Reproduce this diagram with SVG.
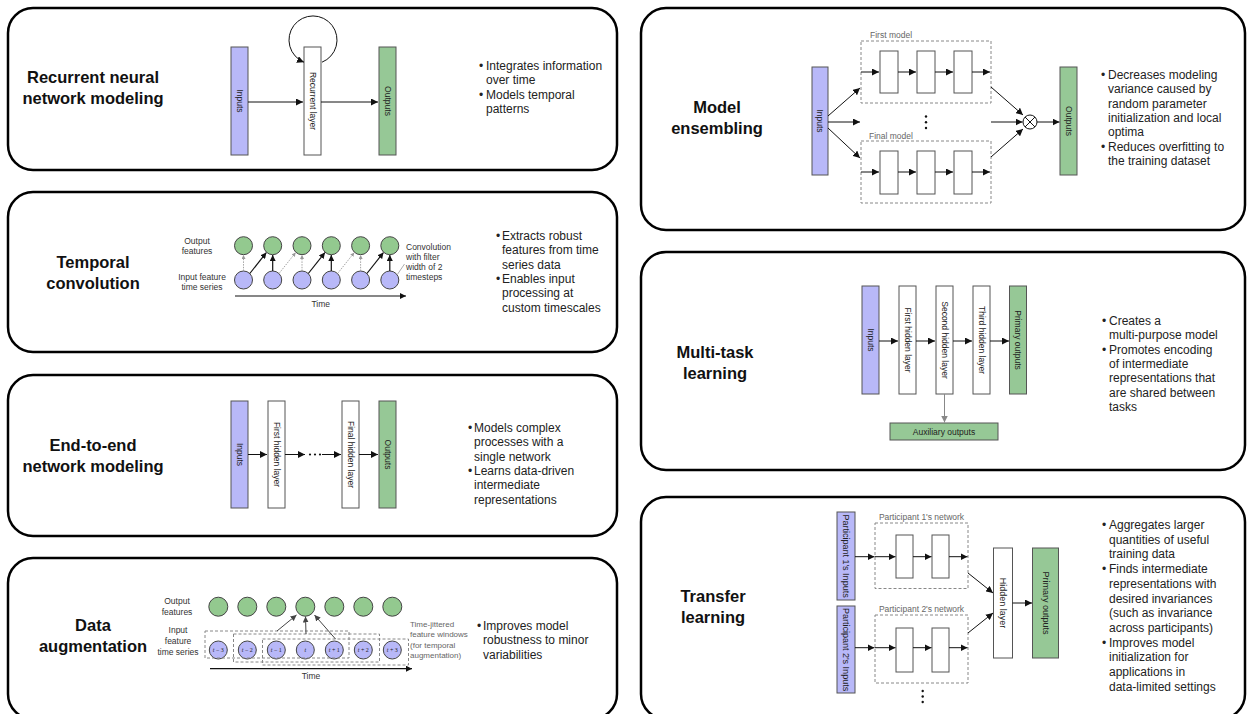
<svg xmlns="http://www.w3.org/2000/svg" width="1249" height="714" viewBox="0 0 1249 714">
<style>
.panel{fill:#fff;stroke:#000;stroke-width:2.5}
text{font-family:"Liberation Sans",Arial,Helvetica,sans-serif}
.title{font-weight:bold;font-size:16.5px;text-anchor:middle;fill:#111}
.bul{font-size:12px;fill:#222}
.in{fill:#b8b8f8;stroke:#555;stroke-width:1}
.out{fill:#96c896;stroke:#555;stroke-width:1}
.hid{fill:#fff;stroke:#555;stroke-width:1}
.vt{font-size:8.5px;fill:#222;text-anchor:middle;dominant-baseline:central}
.lab{font-size:8.5px;fill:#333}
.labc{font-size:8.5px;fill:#333;text-anchor:middle}
.glab{font-size:8.5px;fill:#666}
.dash{fill:none;stroke:#888;stroke-width:1;stroke-dasharray:3 2}
.ar{stroke:#111;stroke-width:1;fill:none;marker-end:url(#ah)}
.arg{stroke:#888;stroke-width:1;fill:none;marker-end:url(#ahg)}
.ars{stroke:#111;stroke-width:1.2;fill:none;marker-end:url(#ahs)}
.ard{stroke:#999;stroke-width:0.9;stroke-dasharray:1.5 1.2;fill:none;marker-end:url(#ahd)}
.ara{stroke:#444;stroke-width:1;fill:none;marker-end:url(#aha)}
.ln{stroke:#111;stroke-width:1;fill:none}
.cg{fill:#93c98f;stroke:#444;stroke-width:1}
.cb{fill:#b8b8f8;stroke:#444;stroke-width:1}
.tl{font-family:"Liberation Serif","Times New Roman",serif;font-size:6px;fill:#222;text-anchor:middle}
</style>
<defs>
<marker id="ah" viewBox="0 0 10 10" refX="10" refY="5" markerWidth="7" markerHeight="7" orient="auto" markerUnits="userSpaceOnUse"><path d="M0,0 L10,5 L0,10 z" fill="#111"/></marker>
<marker id="ahg" viewBox="0 0 10 10" refX="10" refY="5" markerWidth="7" markerHeight="7" orient="auto" markerUnits="userSpaceOnUse"><path d="M0,0 L10,5 L0,10 z" fill="#888"/></marker>
<marker id="ahs" viewBox="0 0 10 10" refX="10" refY="5" markerWidth="6" markerHeight="6" orient="auto" markerUnits="userSpaceOnUse"><path d="M0,0 L10,5 L0,10 z" fill="#111"/></marker>
<marker id="ahd" viewBox="0 0 10 10" refX="10" refY="5" markerWidth="4" markerHeight="4" orient="auto" markerUnits="userSpaceOnUse"><path d="M0,0 L10,5 L0,10 z" fill="#999"/></marker>
<marker id="aha" viewBox="0 0 10 10" refX="10" refY="5" markerWidth="6" markerHeight="6" orient="auto" markerUnits="userSpaceOnUse"><path d="M0,0 L10,5 L0,10 z" fill="#444"/></marker>
</defs>
<rect width="1249" height="714" fill="#fff"/>

<!-- Panel 1: RNN -->
<g id="panel-rnn">
<rect class="panel" x="8" y="8" width="609" height="162" rx="25"/>
<text class="title"><tspan x="93" y="83">Recurrent neural</tspan><tspan x="93" y="104">network modeling</tspan></text>
<g id="rnn-inputs"><rect class="in" x="231" y="47" width="17" height="108"/><text class="vt" transform="translate(239.5,101) rotate(90)">Inputs</text></g>
<g id="rnn-recurrent"><rect class="hid" x="304" y="47" width="17" height="108"/><text class="vt" transform="translate(312.5,101) rotate(90)">Recurrent layer</text></g>
<g id="rnn-outputs"><rect class="out" x="379" y="47" width="17" height="108"/><text class="vt" transform="translate(387.5,101) rotate(90)">Outputs</text></g>
<g class="bul"><text x="479" y="70">•</text><text x="486" y="70">Integrates information</text><text x="486" y="84.3">over time</text><text x="479" y="98.6">•</text><text x="486" y="98.6">Models temporal</text><text x="486" y="113">patterns</text></g>
</g>

<!-- Panel 2: Temporal convolution -->
<g id="panel-tconv">
<rect class="panel" x="8" y="192" width="609" height="160" rx="25"/>
<text class="title"><tspan x="93" y="268">Temporal</tspan><tspan x="93" y="289">convolution</tspan></text>
<text class="labc"><tspan x="197" y="244">Output</tspan><tspan x="197" y="254">features</tspan></text>
<text class="labc"><tspan x="202" y="280">Input feature</tspan><tspan x="202" y="290">time series</tspan></text>
<g id="tconv-out">
<circle class="cg" cx="243.5" cy="245.7" r="9"/><circle class="cg" cx="272.7" cy="245.7" r="9"/><circle class="cg" cx="302" cy="245.7" r="9"/><circle class="cg" cx="331.3" cy="245.7" r="9"/><circle class="cg" cx="360.6" cy="245.7" r="9"/><circle class="cg" cx="389.8" cy="245.7" r="9"/>
</g>
<g id="tconv-in">
<circle class="cb" cx="243.5" cy="280" r="9"/><circle class="cb" cx="272.7" cy="280" r="9"/><circle class="cb" cx="302" cy="280" r="9"/><circle class="cb" cx="331.3" cy="280" r="9"/><circle class="cb" cx="360.6" cy="280" r="9"/><circle class="cb" cx="389.8" cy="280" r="9"/>
</g>
<text class="lab"><tspan x="406" y="250">Convolution</tspan><tspan x="406" y="260">with filter</tspan><tspan x="406" y="270">width of 2</tspan><tspan x="406" y="280">timesteps</tspan></text>
<text class="labc" x="320.7" y="306.5">Time</text>
<g class="bul"><text x="496" y="240">•</text><text x="502" y="240">Extracts robust</text><text x="502" y="254.3">features from time</text><text x="502" y="268.6">series data</text><text x="496" y="282.9">•</text><text x="502" y="282.9">Enables input</text><text x="502" y="297.2">processing at</text><text x="502" y="311.5">custom timescales</text></g>
</g>

<!-- Panel 3: End-to-end -->
<g id="panel-e2e">
<rect class="panel" x="8" y="375" width="609" height="161" rx="25"/>
<text class="title"><tspan x="93" y="451">End-to-end</tspan><tspan x="93" y="472">network modeling</tspan></text>
<g id="e2e-inputs"><rect class="in" x="231" y="401" width="17" height="107"/><text class="vt" transform="translate(239.5,454.5) rotate(90)">Inputs</text></g>
<g id="e2e-first"><rect class="hid" x="268" y="401" width="17" height="107"/><text class="vt" transform="translate(276.5,454.5) rotate(90)">First hidden layer</text></g>
<g id="e2e-final"><rect class="hid" x="342" y="401" width="17" height="107"/><text class="vt" transform="translate(350.5,454.5) rotate(90)">Final hidden layer</text></g>
<g id="e2e-outputs"><rect class="out" x="379" y="401" width="17" height="107"/><text class="vt" transform="translate(387.5,454.5) rotate(90)">Outputs</text></g>
<g fill="#111"><circle cx="310" cy="454.5" r="1.1"/><circle cx="315" cy="454.5" r="1.1"/><circle cx="320" cy="454.5" r="1.1"/></g>
<g class="bul"><text x="468" y="432">•</text><text x="474" y="432">Models complex</text><text x="474" y="446.3">processes with a</text><text x="474" y="460.6">single network</text><text x="468" y="474.9">•</text><text x="474" y="474.9">Learns data-driven</text><text x="474" y="489.2">intermediate</text><text x="474" y="503.5">representations</text></g>
</g>

<!-- Panel 4: Data augmentation -->
<g id="panel-aug">
<rect class="panel" x="8" y="558" width="609" height="161" rx="25"/>
<text class="title"><tspan x="93" y="631">Data</tspan><tspan x="93" y="652">augmentation</tspan></text>
<text class="labc"><tspan x="177" y="604">Output</tspan><tspan x="177" y="615">features</tspan></text>
<text class="labc"><tspan x="178" y="633">Input</tspan><tspan x="178" y="644">feature</tspan><tspan x="178" y="655">time series</tspan></text>
<g id="aug-out">
<circle class="cg" cx="218.3" cy="606.7" r="9.5"/><circle class="cg" cx="247.3" cy="606.7" r="9.5"/><circle class="cg" cx="276.3" cy="606.7" r="9.5"/><circle class="cg" cx="305.3" cy="606.7" r="9.5"/><circle class="cg" cx="334.3" cy="606.7" r="9.5"/><circle class="cg" cx="363.3" cy="606.7" r="9.5"/><circle class="cg" cx="392.3" cy="606.7" r="9.5"/>
</g>
<g id="aug-in">
<circle class="cb" cx="218.3" cy="650" r="9"/><circle class="cb" cx="247.3" cy="650" r="9"/><circle class="cb" cx="276.3" cy="650" r="9"/><circle class="cb" cx="305.3" cy="650" r="9"/><circle class="cb" cx="334.3" cy="650" r="9"/><circle class="cb" cx="363.3" cy="650" r="9"/><circle class="cb" cx="392.3" cy="650" r="9"/>
<text class="tl" x="218.3" y="652"><tspan font-style="italic">t</tspan> − 3</text>
<text class="tl" x="247.3" y="652"><tspan font-style="italic">t</tspan> − 2</text>
<text class="tl" x="276.3" y="652"><tspan font-style="italic">t</tspan> − 1</text>
<text class="tl" x="305.3" y="652"><tspan font-style="italic">t</tspan></text>
<text class="tl" x="334.3" y="652"><tspan font-style="italic">t</tspan> + 1</text>
<text class="tl" x="363.3" y="652"><tspan font-style="italic">t</tspan> + 2</text>
<text class="tl" x="392.3" y="652"><tspan font-style="italic">t</tspan> + 3</text>
</g>
<g id="aug-windows">
<rect class="dash" x="205" y="631" width="144" height="27"/>
<rect class="dash" x="233.5" y="634" width="146" height="28"/>
<rect class="dash" x="262.5" y="639" width="146" height="26"/>
</g>
<text class="glab" style="font-size:8px"><tspan x="410" y="626.5">Time-jittered</tspan><tspan x="410" y="637">feature windows</tspan><tspan x="410" y="647.5">(for temporal</tspan><tspan x="410" y="658">augmentation)</tspan></text>
<text class="labc" x="311" y="679">Time</text>
<g class="bul"><text x="477" y="630">•</text><text x="483" y="630">Improves model</text><text x="483" y="644.3">robustness to minor</text><text x="483" y="658.6">variabilities</text></g>
</g>

<!-- Panel 5: Model ensembling -->
<g id="panel-ens">
<rect class="panel" x="641" y="8" width="604" height="222" rx="25"/>
<text class="title"><tspan x="717" y="113">Model</tspan><tspan x="717" y="134">ensembling</tspan></text>
<g id="ens-inputs"><rect class="in" x="812" y="67" width="16" height="108"/><text class="vt" transform="translate(820,121) rotate(90)">Inputs</text></g>
<g id="ens-first">
<rect class="dash" x="861" y="41" width="130" height="62"/>
<text class="glab" x="870" y="38.3">First model</text>
<rect class="hid" x="880" y="51" width="18" height="42"/><rect class="hid" x="917" y="51" width="18" height="42"/><rect class="hid" x="954" y="51" width="18" height="42"/>
</g>
<g id="ens-final">
<rect class="dash" x="861" y="141" width="130" height="62"/>
<text class="glab" x="869" y="139.3">Final model</text>
<rect class="hid" x="880" y="151" width="18" height="43"/><rect class="hid" x="917" y="151" width="18" height="43"/><rect class="hid" x="954" y="151" width="18" height="43"/>
</g>
<g fill="#111"><circle cx="926" cy="116.5" r="1.2"/><circle cx="926" cy="122.3" r="1.2"/><circle cx="926" cy="128" r="1.2"/></g>
<g id="ens-combine"><circle cx="1030" cy="122" r="7" fill="#fff" stroke="#111" stroke-width="1"/><path class="ln" d="M1025 117 L1035 127 M1035 117 L1025 127"/></g>
<g id="ens-outputs"><rect class="out" x="1060" y="67" width="17" height="108"/><text class="vt" transform="translate(1068.5,121) rotate(90)">Outputs</text></g>
<g class="bul"><text x="1101" y="79">•</text><text x="1108" y="79">Decreases modeling</text><text x="1108" y="93.3">variance caused by</text><text x="1108" y="107.6">random parameter</text><text x="1108" y="121.9">initialization and local</text><text x="1108" y="136.2">optima</text><text x="1101" y="150.5">•</text><text x="1108" y="150.5">Reduces overfitting to</text><text x="1108" y="164.8">the training dataset</text></g>
</g>

<!-- Panel 6: Multi-task learning -->
<g id="panel-mtl">
<rect class="panel" x="641" y="252" width="604" height="218" rx="25"/>
<text class="title"><tspan x="715" y="358">Multi-task</tspan><tspan x="715" y="379">learning</tspan></text>
<g id="mtl-inputs"><rect class="in" x="862" y="286" width="17" height="108"/><text class="vt" transform="translate(870.5,340) rotate(90)">Inputs</text></g>
<g id="mtl-h1"><rect class="hid" x="899" y="286" width="17" height="108"/><text class="vt" transform="translate(907.5,340) rotate(90)">First hidden layer</text></g>
<g id="mtl-h2"><rect class="hid" x="936" y="286" width="17" height="108"/><text class="vt" transform="translate(944.5,340) rotate(90)">Second hidden layer</text></g>
<g id="mtl-h3"><rect class="hid" x="973" y="286" width="17" height="108"/><text class="vt" transform="translate(981.5,340) rotate(90)">Third hidden layer</text></g>
<g id="mtl-primary"><rect class="out" x="1009.5" y="286" width="17" height="108"/><text class="vt" transform="translate(1018,340) rotate(90)">Primary outputs</text></g>
<g id="mtl-aux"><rect class="out" x="890" y="423" width="108" height="17"/><text class="vt" x="944" y="431.5">Auxiliary outputs</text></g>
<g class="bul"><text x="1102" y="325">•</text><text x="1109" y="325">Creates a</text><text x="1109" y="339.3">multi-purpose model</text><text x="1102" y="353.6">•</text><text x="1109" y="353.6">Promotes encoding</text><text x="1109" y="367.9">of intermediate</text><text x="1109" y="382.2">representations that</text><text x="1109" y="396.5">are shared between</text><text x="1109" y="410.8">tasks</text></g>
</g>

<!-- Panel 7: Transfer learning -->
<g id="panel-tl">
<rect class="panel" x="641" y="497" width="604" height="222" rx="25"/>
<text class="title"><tspan x="713" y="602">Transfer</tspan><tspan x="713" y="623">learning</tspan></text>
<g id="tl-p1in"><rect class="in" x="837" y="512" width="18" height="88"/><text class="vt" style="font-size:9px" transform="translate(846,556) rotate(90)">Participant 1's Inputs</text></g>
<g id="tl-p2in"><rect class="in" x="837" y="606" width="18" height="87"/><text class="vt" style="font-size:9px" transform="translate(846,649.5) rotate(90)">Participant 2's Inputs</text></g>
<g id="tl-p1net">
<rect class="dash" x="875" y="523" width="93" height="65.5"/>
<text class="glab" x="921.5" y="520" text-anchor="middle">Participant 1's network</text>
<rect class="hid" x="896" y="535" width="17" height="43"/><rect class="hid" x="932" y="535" width="17" height="43"/>
</g>
<g id="tl-p2net">
<rect class="dash" x="875" y="615" width="93" height="68"/>
<text class="glab" x="921.5" y="612" text-anchor="middle">Participant 2's network</text>
<rect class="hid" x="896" y="628" width="17" height="44"/><rect class="hid" x="932" y="628" width="17" height="44"/>
</g>
<g fill="#111"><circle cx="922.7" cy="691" r="1.2"/><circle cx="922.7" cy="696.5" r="1.2"/><circle cx="922.7" cy="702" r="1.2"/></g>
<g id="tl-hidden"><rect class="hid" x="993.5" y="548" width="19" height="110"/><text class="vt" style="font-size:9px" transform="translate(1003,603) rotate(90)">Hidden layer</text></g>
<g id="tl-primary"><rect class="out" x="1032.5" y="548" width="26" height="110"/><text class="vt" style="font-size:9px" transform="translate(1045.5,603) rotate(90)">Primary outputs</text></g>
<g class="bul"><text x="1102" y="529">•</text><text x="1109" y="529">Aggregates larger</text><text x="1109" y="543.7">quantities of useful</text><text x="1109" y="558.4">training data</text><text x="1102" y="573.1">•</text><text x="1109" y="573.1">Finds intermediate</text><text x="1109" y="587.8">representations with</text><text x="1109" y="602.5">desired invariances</text><text x="1109" y="617.2">(such as invariance</text><text x="1109" y="631.9">across participants)</text><text x="1102" y="646.6">•</text><text x="1109" y="646.6">Improves model</text><text x="1109" y="661.3">initialization for</text><text x="1109" y="676">applications in</text><text x="1109" y="690.7">data-limited settings</text></g>
</g>

<!-- Connectors -->
<g id="connectors">
<path class="ar" d="M248 102 H303"/>
<path class="ar" d="M321 102 H378"/>
<path class="ar" d="M322 62.2 A24 24 0 1 0 304 62.2"/>
<path class="ard" d="M243.5 271 V255"/>
<path class="ars" d="M272.7 271 V255"/>
<path class="ard" d="M302 271 V255"/>
<path class="ars" d="M331.3 271 V255"/>
<path class="ard" d="M360.6 271 V255"/>
<path class="ars" d="M389.8 271 V255"/>
<path class="ars" d="M249.8 273.5 L266.4 252.5"/>
<path class="ard" d="M279 273.5 L295.7 252.5"/>
<path class="ars" d="M308.3 273.5 L325 252.5"/>
<path class="ard" d="M337.6 273.5 L354.3 252.5"/>
<path class="ars" d="M366.9 273.5 L383.5 252.5"/>
<path d="M397.5 274.3 L404.5 264" stroke="#999" stroke-width="0.8" fill="none"/>
<path class="ars" d="M235 296 H406"/>
<path class="ar" d="M248 454.5 H267"/>
<path class="ar" d="M285 454.5 H305"/>
<path class="ar" d="M322 454.5 H341"/>
<path class="ar" d="M359 454.5 H378"/>
<path class="ara" d="M277 631 L296.5 615"/>
<path class="ara" d="M306 634 L305.5 616.5"/>
<path class="ara" d="M335.5 639 L314.5 615"/>
<path class="ars" d="M210 668.7 H412"/>
<path class="ar" d="M828 116 L860 88"/>
<path class="ar" d="M828 122 H860"/>
<path class="ar" d="M828 128 L860 158"/>
<path class="ar" d="M861 72 H879"/><path class="ar" d="M898 72 H916"/><path class="ar" d="M935 72 H953"/><path class="ar" d="M972 72 H990"/>
<path class="ar" d="M861 172 H879"/><path class="ar" d="M898 172 H916"/><path class="ar" d="M935 172 H953"/><path class="ar" d="M972 172 H990"/>
<path class="ar" d="M991 87 L1023 115"/>
<path class="ar" d="M991 122 H1022.5"/>
<path class="ar" d="M991 157 L1023 129"/>
<path class="ar" d="M1037 122 H1059.5"/>
<path class="ar" d="M879 341 H898"/><path class="ar" d="M916 341 H935"/><path class="ar" d="M953 341 H972"/><path class="ar" d="M990 341 H1009"/>
<path class="arg" d="M944.5 394 V422.5"/>
<path class="ar" d="M855 556.7 H874.5"/><path class="ar" d="M875 556.7 H895.5"/><path class="ar" d="M913 556.7 H931.5"/><path class="ar" d="M949 556.7 H967.5"/>
<path class="ar" d="M855 647.7 H874.5"/><path class="ar" d="M875 647.7 H895.5"/><path class="ar" d="M913 647.7 H931.5"/><path class="ar" d="M949 647.7 H967.5"/>
<path class="ar" d="M968 573 L993 593"/>
<path class="ar" d="M968 633 L993 613"/>
<path class="ar" d="M1012.5 603 H1032"/>
</g>
</svg>
